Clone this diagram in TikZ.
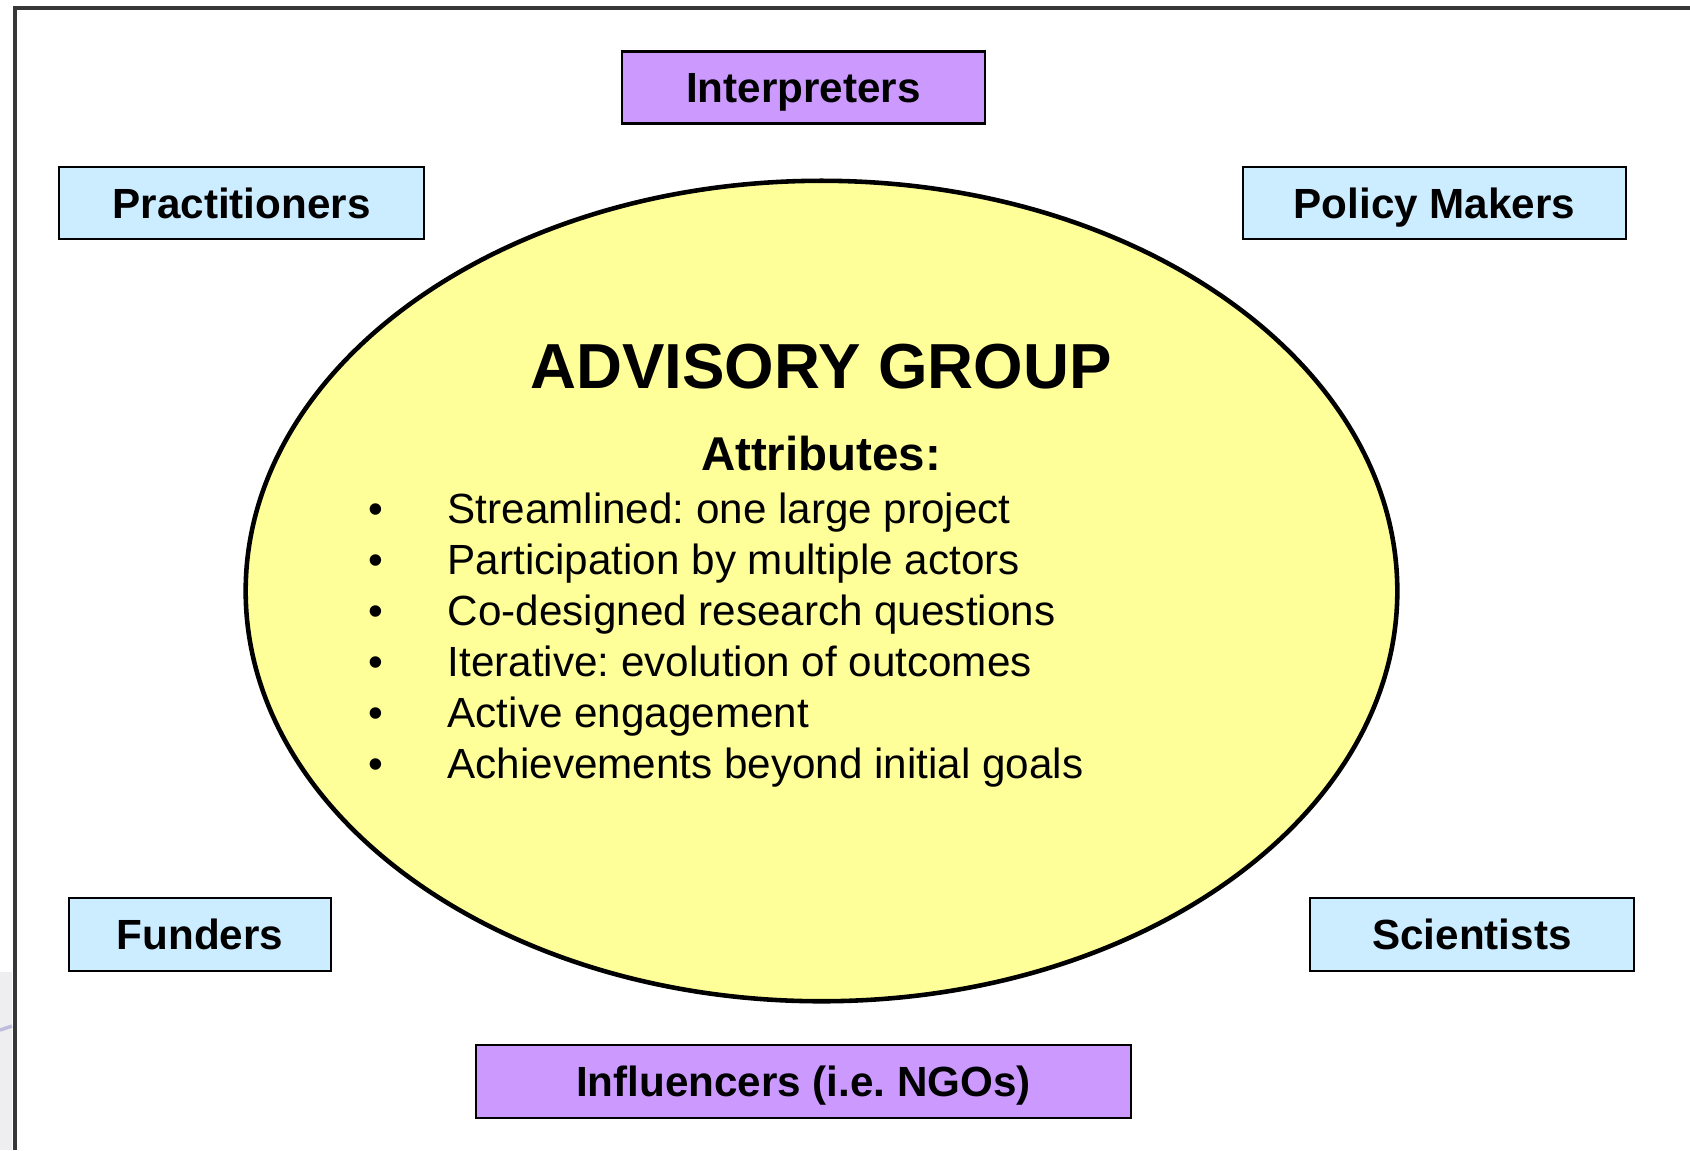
\documentclass[tikz,border=0pt]{standalone}
\usepackage{fontspec}
\setmainfont{Liberation Sans}
\usetikzlibrary{shapes.geometric}
\frenchspacing

\definecolor{actorblue}{RGB}{204,236,255}
\definecolor{actorpurple}{RGB}{204,153,255}
\definecolor{groupyellow}{RGB}{255,255,153}
\definecolor{framegray}{RGB}{55,55,55}

\begin{document}
\begin{tikzpicture}[
    x=0.01cm, y=-0.01cm,
    actor/.style={draw, line width=0.7pt, minimum height=0.72cm, inner sep=0pt,
        text height=8.6pt, text depth=0pt,
        font=\fontsize{12pt}{14pt}\selectfont\bfseries},
    outer/.style={actor, fill=actorblue},
    middle/.style={actor, fill=actorpurple},
    group/.style={draw, ellipse, line width=1.3pt, fill=groupyellow,
        minimum width=11.51cm, minimum height=8.2cm},
    attr/.style={anchor=base west, inner sep=0pt, font=\fontsize{12pt}{14pt}\selectfont},
    dot/.style={anchor=base, inner sep=0pt, font=\fontsize{12pt}{14pt}\selectfont}]

\useasboundingbox (0,0) rectangle (1690,1150);

% Page frame (cut off right and bottom)
\fill[blue!8!gray!12] (0,972) rectangle (12,1150);
\draw[blue!30!gray!40, line width=1pt] (0,1030) -- (12,1026);
\draw[framegray, line width=1.2pt] (1690,8) -- (15,8) -- (15,1150);

% Central group
\node[group] (group) at (821.5,591) {};
\node[anchor=base, inner sep=0pt, font=\fontsize{18.1pt}{20pt}\selectfont\bfseries]
    (title) at (821,388) {ADVISORY GROUP};
\node[anchor=base, inner sep=0pt, font=\fontsize{13.5pt}{16pt}\selectfont\bfseries]
    (attrs) at (821,470) {Attributes:};

% Attribute list
\foreach \txt [count=\i] in {Streamlined: one large project,
    Participation by multiple actors,
    Co-designed research questions,
    Iterative: evolution of outcomes,
    Active engagement,
    Achievements beyond initial goals} {
    \node[dot] (bullet\i) at (376,472+51*\i) {\textbullet};
    \node[attr] (item\i) at (447,472+51*\i) {\txt};
}

% Actors around the group
\node[middle, minimum width=3.63cm] (interp) at (803.5,87.5) {Interpreters};
\node[outer, minimum width=3.65cm] (pract) at (241.5,203) {Practitioners};
\node[outer, minimum width=3.83cm] (policy) at (1434.5,203) {Policy Makers};
\node[outer, minimum width=2.62cm, minimum height=0.73cm] (fund) at (200,934.5) {Funders};
\node[outer, minimum width=3.24cm, minimum height=0.73cm] (sci) at (1472,934.5) {Scientists};
\node[middle, minimum width=6.55cm, minimum height=0.73cm] (infl) at (803.5,1081.5) {Influencers (i.e. NGOs)};

\end{tikzpicture}
\end{document}
